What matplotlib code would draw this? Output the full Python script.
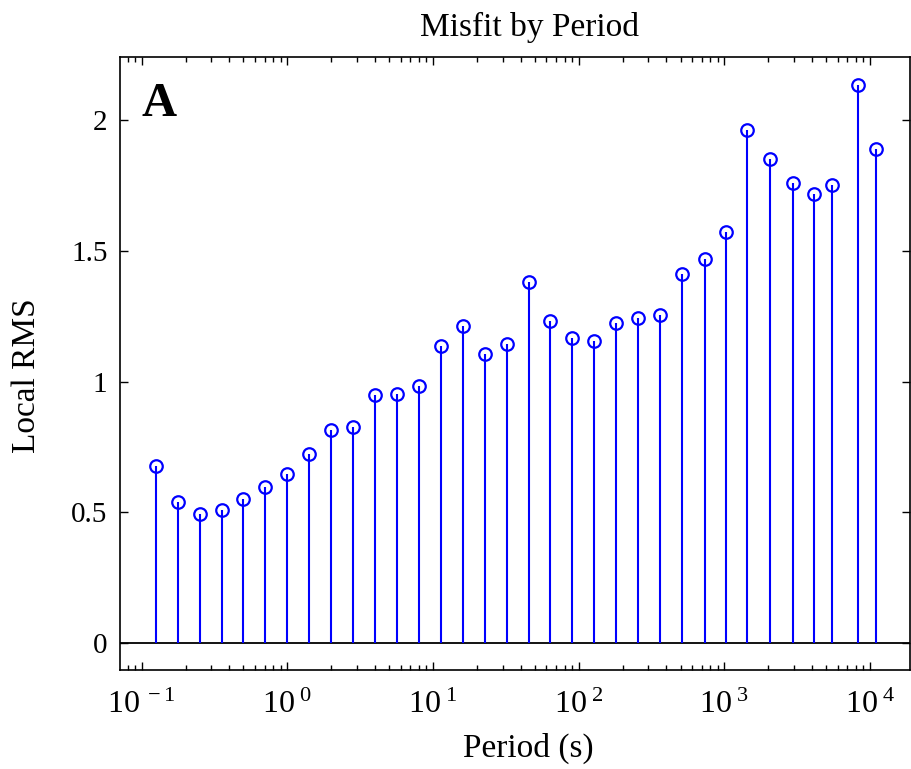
import matplotlib
matplotlib.use("Agg")
import matplotlib.pyplot as plt
from matplotlib.ticker import LogLocator, FixedLocator, NullFormatter, FuncFormatter
import numpy as np

plt.rcParams['font.family'] = ['Liberation Serif', 'DejaVu Serif']
plt.rcParams['mathtext.fontset'] = 'custom'
plt.rcParams['mathtext.rm'] = 'Liberation Serif'
plt.rcParams['mathtext.it'] = 'Liberation Serif:italic'
plt.rcParams['mathtext.bf'] = 'Liberation Serif:bold'

# Period of each band (s) and its local RMS misfit
period_s = [0.125, 0.177, 0.25, 0.354, 0.5, 0.707, 1.0, 1.41, 2.0, 2.83,
            4.0, 5.66, 8.0, 11.3, 16.0, 22.6, 32.0, 45.3, 64.0, 90.5,
            128.0, 181.0, 256.0, 362.0, 512.0, 740.0, 1024.0, 1420.0, 2048.0, 2980.0,
            4100.0, 5450.0, 8260.0, 10950.0]
local_rms = [0.677, 0.540, 0.494, 0.509, 0.553, 0.598, 0.646, 0.723, 0.815, 0.828,
             0.949, 0.951, 0.983, 1.136, 1.212, 1.105, 1.144, 1.379, 1.233, 1.168,
             1.156, 1.223, 1.244, 1.253, 1.411, 1.470, 1.572, 1.961, 1.852, 1.760,
             1.717, 1.751, 2.133, 1.888]

y_ticks = [0, 0.5, 1, 1.5, 2]
y_tick_labels = ['0', '0.5', '1', '1.5', '2']
x_decades = [-1, 0, 1, 2, 3, 4]

W, H = 911, 769
fig = plt.figure(figsize=(W / 100, H / 100), dpi=100)
ax_l, ax_r, ax_t, ax_b = 120, 910, 57.3, 670
ax = fig.add_axes([ax_l / W, 1 - ax_b / H, (ax_r - ax_l) / W, (ax_b - ax_t) / H])

blue = '#0000ff'
markerline, stemlines, baseline = ax.stem(period_s, local_rms, linefmt='-', markerfmt='o',
                                          basefmt=' ')
stemlines.set_color(blue)
stemlines.set_linewidth(1.5)
markerline.set_markerfacecolor('none')
markerline.set_markeredgecolor(blue)
markerline.set_markersize(9)
markerline.set_markeredgewidth(1.6)
baseline.set_visible(False)
ax.axhline(0, color='black', lw=1.3, zorder=1)

ax.set_xscale('log')
ax.set_xlim(0.0710, 18810)
ax.set_ylim(-0.102, 2.239)

ax.xaxis.set_major_locator(FixedLocator([10.0 ** d for d in x_decades]))
ax.xaxis.set_minor_locator(LogLocator(base=10, subs=np.arange(2, 10), numticks=20))
ax.xaxis.set_minor_formatter(NullFormatter())
ax.xaxis.set_major_formatter(FuncFormatter(
    lambda v, pos: r'$\mathregular{10^{\ %d}}$' % int(round(np.log10(v)))))
ax.set_yticks(y_ticks)
ax.set_yticklabels(y_tick_labels)

ax.tick_params(which='both', direction='in', top=True, right=True, width=1.0,
               labelsize=21, color='black')
ax.tick_params(which='major', length=6)
ax.tick_params(which='minor', length=3.5)
ax.tick_params(axis='x', which='major', pad=15, labelsize=23)
ax.tick_params(axis='y', which='major', pad=9)
for s in ax.spines.values():
    s.set_linewidth(1.2)

ax.set_xlabel('Period (s)', fontsize=24)
ax.xaxis.label.set_va('baseline')
ax.xaxis.set_label_coords((528 - ax_l) / (ax_r - ax_l), (ax_b - 757) / (ax_b - ax_t))
ax.set_ylabel('Local RMS', fontsize=24)
ax.yaxis.label.set_va('center')
ax.yaxis.set_label_coords((27 - ax_l) / (ax_r - ax_l), (ax_b - 376) / (ax_b - ax_t))
ax.set_title('Misfit by Period', fontsize=24, va='baseline', pad=0,
             x=(529 - ax_l) / (ax_r - ax_l), y=(ax_b - 36) / (ax_b - ax_t))

ax.text((141.7 - ax_l) / (ax_r - ax_l), (ax_b - 116) / (ax_b - ax_t), 'A',
        transform=ax.transAxes, fontsize=35, fontweight='bold', va='baseline', ha='left')

fig.savefig('out.png', dpi=100)
